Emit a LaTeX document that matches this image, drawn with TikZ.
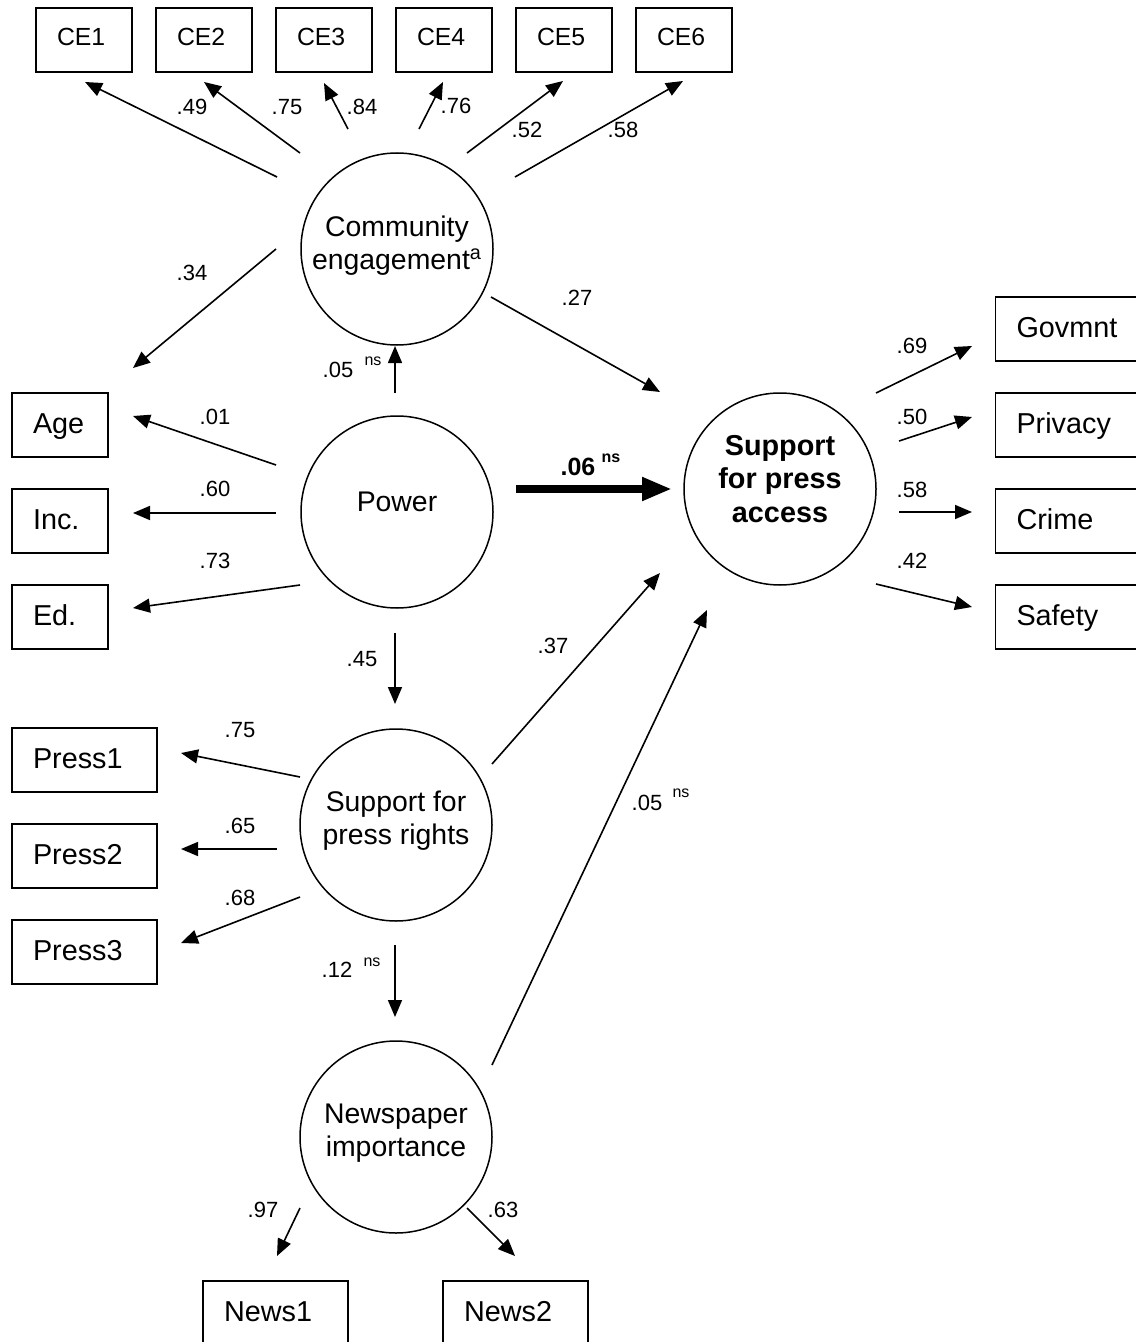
\documentclass[tikz,border=0pt]{standalone}
\usepackage{fontspec}
\setmainfont{Liberation Sans}
\usetikzlibrary{arrows.meta}
\begin{document}
\begin{tikzpicture}[x=0.5pt,y=-0.5pt,
  latent/.style={draw, circle, line width=0.75pt, minimum size=96pt, inner sep=0pt},
  ctext/.style={align=center, inner sep=0pt, font=\fontsize{14.2}{16.5}\selectfont},
  obs/.style={draw, rectangle, line width=0.75pt, minimum height=32pt, inner xsep=10.5pt,
    inner ysep=0pt, text width=#1, align=left, font=\fontsize{14.4}{16}\selectfont,
    text height=10pt, text depth=1.5pt},
  ceobs/.style={obs=#1, font=\fontsize{12.4}{14}\selectfont, text height=9pt, text depth=3.5pt},
  lbl/.style={font=\fontsize{11}{12}\selectfont, inner sep=0pt},
  nsl/.style={font=\fontsize{8}{9}\selectfont, inner sep=0pt},
  arr/.style={-{Triangle[length=8.5pt,width=7pt]}, line width=0.8pt},
  bigarr/.style={-{Triangle[length=15pt,width=11pt]}, line width=4pt}
]
\fill[white] (0,0) rectangle (1135,1342);
\useasboundingbox (0,0) rectangle (1135,1342);

% latent variables
\node[latent] (ce)  at (397,249) {};
\node[latent] (pow) at (397,512) {};
\node[latent] (spa) at (780,489) {};
\node[latent] (spr) at (396,825) {};
\node[latent] (ni)  at (396,1137) {};
\node[ctext] (cet)  at (397,246) {Community\\engagement\textsuperscript{a}};
\node[ctext] (powt) at (397,502) {Power};
\node[ctext, font=\fontsize{14.4}{16.8}\selectfont\bfseries] (spat) at (780,479) {Support\\for press\\access};
\node[ctext] (sprt) at (396,821) {Support for\\press rights};
\node[ctext] (nit)  at (396,1133) {Newspaper\\importance};

% observed variables
\node[ceobs=27pt] (ce1) at (84,40) {CE1};
\node[ceobs=27pt] (ce2) at (204,40) {CE2};
\node[ceobs=27pt] (ce3) at (324,40) {CE3};
\node[ceobs=27pt] (ce4) at (444,40) {CE4};
\node[ceobs=27pt] (ce5) at (564,40) {CE5};
\node[ceobs=27pt] (ce6) at (684,40) {CE6};
\node[obs=27pt] (age) at (60,425) {Age};
\node[obs=27pt] (inc) at (60,521) {Inc.};
\node[obs=27pt] (ed)  at (60,617) {Ed.};
\node[obs=51.5pt] (gov) at (1068,329) {Govmnt};
\node[obs=51.5pt] (pri) at (1068,425) {Privacy};
\node[obs=51.5pt] (cri) at (1068,521) {Crime};
\node[obs=51.5pt] (saf) at (1068,617) {Safety};
\node[obs=51.5pt] (pr1) at (84.5,760) {Press1};
\node[obs=51.5pt] (pr2) at (84.5,856) {Press2};
\node[obs=51.5pt] (pr3) at (84.5,952) {Press3};
\node[obs=51.5pt] (nw1) at (275.5,1313) {News1};
\node[obs=51.5pt] (nw2) at (515.5,1313) {News2};

% connector end points
\coordinate (a1s) at (277,177);  \coordinate (a1e) at (85,82);
\coordinate (a2s) at (300,153);  \coordinate (a2e) at (204,82);
\coordinate (a3s) at (348,129);  \coordinate (a3e) at (324,83);
\coordinate (a4s) at (419,129);  \coordinate (a4e) at (443,82);
\coordinate (a5s) at (467,153);  \coordinate (a5e) at (563,81);
\coordinate (a6s) at (515,177);  \coordinate (a6e) at (683,81);
\coordinate (a7s) at (276,249);  \coordinate (a7e) at (133,368);
\coordinate (a8s) at (491,297);  \coordinate (a8e) at (660,392);
\coordinate (a9s) at (395,393);  \coordinate (a9e) at (395,346);
\coordinate (a10s) at (276,465); \coordinate (a10e) at (133,416);
\coordinate (a11s) at (276,513); \coordinate (a11e) at (133,513);
\coordinate (a12s) at (300,585); \coordinate (a12e) at (133,608);
\coordinate (a13s) at (516,489); \coordinate (a13e) at (672,489);
\coordinate (a14s) at (492,764); \coordinate (a14e) at (660,573);
\coordinate (a15s) at (395,633); \coordinate (a15e) at (395,704);
\coordinate (a16s) at (300,777); \coordinate (a16e) at (181,753);
\coordinate (a17s) at (277,849); \coordinate (a17e) at (181,849);
\coordinate (a18s) at (300,897); \coordinate (a18e) at (181,943);
\coordinate (a19s) at (395,945); \coordinate (a19e) at (395,1017);
\coordinate (a20s) at (492,1065); \coordinate (a20e) at (707,610);
\coordinate (a21s) at (876,393); \coordinate (a21e) at (972,346);
\coordinate (a22s) at (899,441); \coordinate (a22e) at (972,417);
\coordinate (a23s) at (899,512); \coordinate (a23e) at (972,512);
\coordinate (a24s) at (876,584); \coordinate (a24e) at (972,607);
\coordinate (a25s) at (300,1208); \coordinate (a25e) at (277,1256);
\coordinate (a26s) at (467,1208); \coordinate (a26e) at (515,1256);

\foreach \i in {1,2,3,4,5,6,7,8,9,10,11,12,14,15,16,17,18,19,20,21,22,23,24,25,26}
  \draw[arr] (a\i s) -- (a\i e);
\draw[bigarr] (a13s) -- (a13e);

% labels
\node[lbl] (l1) at (192,107) {.49};
\node[lbl] (l2) at (287,107) {.75};
\node[lbl] (l3) at (362,107) {.84};
\node[lbl] (l4) at (456,106) {.76};
\node[lbl] (l5) at (527,130) {.52};
\node[lbl] (l6) at (623,130) {.58};
\node[lbl] (l7) at (192,273) {.34};
\node[lbl] (l8) at (577,298) {.27};
\node[lbl] (l9) at (338,370) {.05};
\node[nsl] (n9) at (373,361) {ns};
\node[lbl] (l10) at (215,417) {.01};
\node[lbl] (l11) at (215,489) {.60};
\node[lbl] (l12) at (215,561) {.73};
\node[lbl, font=\fontsize{12.5}{14}\selectfont\bfseries] (l13) at (578,467) {.06};
\node[nsl, font=\fontsize{8}{9}\selectfont\bfseries] (n13) at (611,458) {ns};
\node[lbl] (l14) at (553,646) {.37};
\node[lbl] (l15) at (362,659) {.45};
\node[lbl] (l16) at (240,730) {.75};
\node[lbl] (l17) at (240,826) {.65};
\node[lbl] (l18) at (240,898) {.68};
\node[lbl] (l19) at (337,970) {.12};
\node[nsl] (n19) at (372,962) {ns};
\node[lbl] (l20) at (647,803) {.05};
\node[nsl] (n20) at (681,793) {ns};
\node[lbl] (l21) at (912,346) {.69};
\node[lbl] (l22) at (912,417) {.50};
\node[lbl] (l23) at (912,490) {.58};
\node[lbl] (l24) at (912,561) {.42};
\node[lbl] (l25) at (263,1210) {.97};
\node[lbl] (l26) at (503,1210) {.63};
\end{tikzpicture}
\end{document}
